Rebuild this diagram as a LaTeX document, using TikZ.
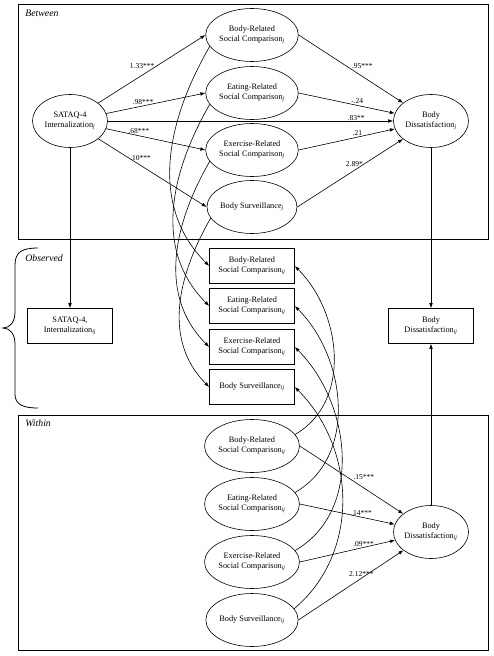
\documentclass[tikz,border=0pt]{standalone}
\usepackage{fontspec}
\setmainfont{Liberation Serif}
\usetikzlibrary{arrows.meta,shapes.geometric}
\newcommand{\lv}[1]{\textsubscript{\textit{#1}}}
\begin{document}
\begin{tikzpicture}[x=1pt,y=1pt,>={Latex[length=5pt,width=3.6pt]},line width=.6pt,
    font=\fontsize{8.3}{10}\selectfont,
    lat/.style={draw,ellipse,minimum width=75pt,minimum height=53pt,inner sep=0pt,align=center},
    obs/.style={draw,rectangle,minimum width=85pt,minimum height=35pt,inner sep=0pt,align=center},
    coef/.style={inner sep=.5pt,font=\fontsize{7.5}{9}\selectfont},
    level/.style={inner sep=0pt,anchor=west,font=\fontsize{9.8}{11}\selectfont\itshape}]
        \useasboundingbox (0,0) rectangle (493,-656);
        \draw (18,-4) rectangle (488,-239);
        \draw (18,-415) rectangle (488,-650);
        \node[level] (between) at (25,-13) {Between};
        \node[level] (observed) at (25,-258) {Observed};
        \node[level] (within) at (25,-423) {Within};
        \draw[line width=.8pt] (38,-248) .. controls (22,-248) and (15,-252) .. (15,-265) -- (15,-312) .. controls (15,-322) and (10,-328) .. (3,-328) .. controls (10,-328) and (15,-334) .. (15,-344) -- (15,-394) .. controls (15,-404) and (22,-408) .. (38,-408);
        \node[lat] (satB) at (70,-121) {SATAQ-4\\Internalization\lv{j}};
        \node[lat] (bodyB) at (252,-35) {Body-Related\\Social Comparison\lv{j}};
        \node[lat] (eatB) at (252,-93) {Eating-Related\\Social Comparison\lv{j}};
        \node[lat] (exerB) at (252,-150) {Exercise-Related\\Social Comparison\lv{j}};
        \node[lat] (survB) at (252,-207) {Body Surveillance\lv{j}};
        \node[lat] (dissB) at (431,-121) {Body\\Dissatisfaction\lv{j}};
        \node[obs] (satO) at (70,-326) {SATAQ-4,\\Internalization\lv{ij}};
        \node[obs] (bodyO) at (252,-266) {Body-Related\\Social Comparison\lv{ij}};
        \node[obs] (eatO) at (252,-306) {Eating-Related\\Social Comparison\lv{ij}};
        \node[obs] (exerO) at (252,-347) {Exercise-Related\\Social Comparison\lv{ij}};
        \node[obs] (survO) at (252,-387) {Body Surveillance\lv{ij}};
        \node[obs] (dissO) at (431,-326) {Body\\Dissatisfaction\lv{ij}};
        \node[lat] (bodyW) at (252,-446) {Body-Related\\Social Comparison\lv{ij}};
        \node[lat] (eatW) at (252,-504) {Eating-Related\\Social Comparison\lv{ij}};
        \node[lat] (exerW) at (252,-562) {Exercise-Related\\Social Comparison\lv{ij}};
        \node[lat] (survW) at (252,-620) {Body Surveillance\lv{ij}};
        \node[lat] (dissW) at (431,-532) {Body\\Dissatisfaction\lv{ij}};
        \draw[->] (satB) -- node[coef,above=6pt,pos=.41] (k1) {1.33***} (bodyB.west);
        \draw[->] (satB) -- node[coef,above=1pt,pos=.37] (k2) {.98***} (eatB.west);
        \draw[->] (satB) -- node[coef,above=1pt,pos=.33] (k3) {.68***} (exerB.west);
        \draw[->] (satB) -- node[coef,above=4pt,pos=.39] (k4) {.10***} (survB.west);
        \draw[->] (satB) -- node[coef,above=0pt,pos=.87] (k5) {.83**} (dissB);
        \draw[->] (bodyB.east) -- node[coef,above=7pt,pos=.61] (k6) {.95***} (dissB);
        \draw[->] (eatB.east) -- node[coef,above=1pt,pos=.61] (k7) {-.24} (dissB);
        \draw[->] (exerB.east) -- node[coef,above=1pt,pos=.61] (k8) {.21} (dissB);
        \draw[->] (survB.east) -- node[coef,above=3pt,pos=.54] (k9) {2.89*} (dissB);
        \draw[->] (bodyW.east) -- node[coef,above=8pt,pos=.62] (k10) {.15***} (dissW);
        \draw[->] (eatW.east) -- node[coef,above=1pt,pos=.65] (k11) {.14***} (dissW);
        \draw[->] (exerW.east) -- node[coef,above=0pt,pos=.67] (k12) {.09***} (dissW);
        \draw[->] (survW.east) -- node[coef,above=1pt,pos=.6] (k13) {2.12***} (dissW);
        \draw[->] (satB) -- (satO);
        \draw[->] (dissB) -- (dissO);
        \draw[->] (dissW) -- (dissO);
        \draw[->] (bodyB.195) to[out=240,in=135] (bodyO.west);
        \draw[->] (eatB.195) to[out=240,in=135] (eatO.west);
        \draw[->] (exerB.195) to[out=240,in=135] (exerO.west);
        \draw[->] (survB.195) to[out=240,in=135] (survO.west);
        \draw[->] (bodyW.15) to[out=30,in=-45] (bodyO.east);
        \draw[->] (eatW.15) to[out=30,in=-45] (eatO.east);
        \draw[->] (exerW.15) to[out=30,in=-45] (exerO.east);
        \draw[->] (survW.15) to[out=40,in=-45] (survO.east);
\end{tikzpicture}
\end{document}
